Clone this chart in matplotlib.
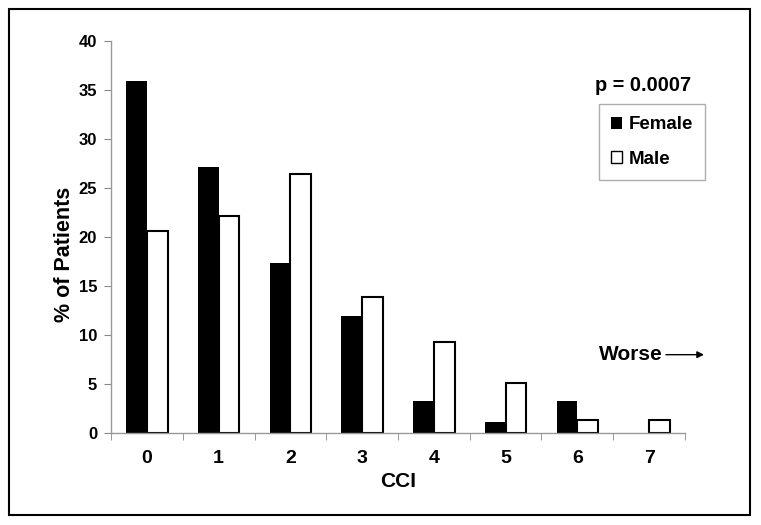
import matplotlib
matplotlib.use('Agg')
import matplotlib.pyplot as plt
from matplotlib.patches import Rectangle
import numpy as np

plt.rcParams['font.family'] = ['Liberation Sans', 'DejaVu Sans']
plt.rcParams['font.weight'] = 'bold'

# CCI 分类与各组百分比
cci = ['0', '1', '2', '3', '4', '5', '6', '7']
female = [35.9, 27.2, 17.4, 12.0, 3.3, 1.1, 3.3, 0.0]
male = [20.6, 22.2, 26.4, 13.9, 9.3, 5.1, 1.3, 1.3]

fig = plt.figure(figsize=(7.61, 5.25), dpi=100)
ax = fig.add_axes([0.1459, 0.1752, 0.7542, 0.7461])

x = np.arange(len(cci))
w = 0.29
ax.bar(x - w / 2, female, w, color='black', linewidth=0, label='Female')
ax.bar(x + w / 2, male, w, color='white', edgecolor='black', linewidth=1.5, label='Male')

ax.set_xlim(-0.5, 7.5)
ax.set_ylim(0, 40)
ax.set_yticks(np.arange(0, 41, 5))
ax.set_xticks(x)
ax.set_xticklabels(cci, fontsize=14, fontweight='bold')
ax.set_xticks(np.arange(-0.5, 8, 1), minor=True)
ax.tick_params(axis='x', which='major', length=0, pad=12)
ax.tick_params(axis='x', which='minor', length=5, color='#888888', direction='out')
ax.tick_params(axis='y', length=5, color='#888888', direction='out', labelsize=12, pad=5)
for lab in ax.get_yticklabels():
    lab.set_fontweight('bold')

for s in ['top', 'right']:
    ax.spines[s].set_visible(False)
for s in ['left', 'bottom']:
    ax.spines[s].set_color('#999999')
    ax.spines[s].set_linewidth(1.0)

ax.set_xlabel('CCI', fontsize=15, fontweight='bold', labelpad=4)
ax.set_ylabel('% of Patients', fontsize=15.5, fontweight='bold')
ax.yaxis.set_label_coords(-0.063, 0.457)

ax.text(0.927, 0.886, 'p = 0.0007', transform=ax.transAxes, ha='center', va='center',
        fontsize=14.3, fontweight='bold')

leg = ax.legend(loc='upper right', bbox_to_anchor=(1.035, 0.84), borderaxespad=0,
                fancybox=False, edgecolor='#999999',
                handlelength=0.6, handleheight=0.6, handletextpad=0.35,
                labelspacing=0.95, borderpad=0.65, prop={'weight': 'bold', 'size': 13.5})
leg.get_frame().set_linewidth(1.0)
leg.legend_handles[0].set_edgecolor('black')
leg.legend_handles[1].set_linewidth(1.0)

ax.text(0.962, 0.2, 'Worse', transform=ax.transAxes, ha='right', va='center',
        fontsize=15, fontweight='bold')
ax.annotate('', xy=(1.038, 0.2), xytext=(0.962, 0.2), xycoords='axes fraction',
            textcoords='axes fraction', annotation_clip=False,
            arrowprops=dict(arrowstyle='-|>', color='black', lw=1.0, mutation_scale=10))

# 外框
fig.patches.append(Rectangle((9 / 761, 10 / 525), 741 / 761, 506 / 525, transform=fig.transFigure,
                             fill=False, edgecolor='black', linewidth=1.5))

fig.savefig('out.png', dpi=100)
